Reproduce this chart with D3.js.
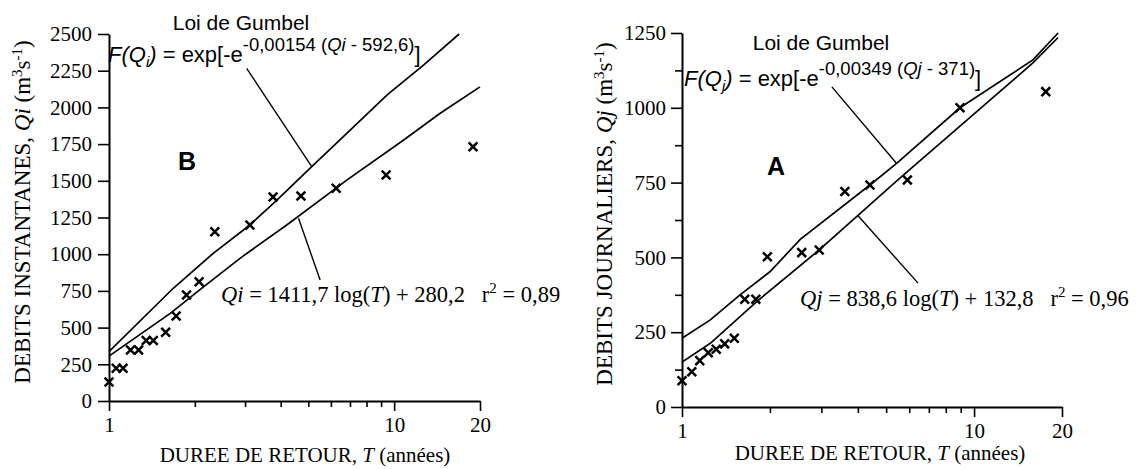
<html>
<head>
<script src="https://d3js.org/d3.v7.min.js"></script>
<style>
  body { margin: 0; background: #fff; }
  .serif { font-family: "Liberation Serif", "Times New Roman", serif; }
  .sans { font-family: "Liberation Sans", Arial, sans-serif; }
  text { fill: #000; white-space: pre; }
  .fit { fill: none; stroke: #000; stroke-width: 1.7; }
  .leader { stroke: #000; stroke-width: 1.4; }
  .obs { fill: none; stroke: #000; stroke-width: 2.5; }
</style>
</head>
<body>
<svg id="mainSVG" width="1141" height="469"></svg>
<script>
// ---------- B : debits instantanes (left panel) ----------
const bObsT = [1.0, 1.06, 1.12, 1.19, 1.27, 1.35, 1.43, 1.58, 1.72, 1.87, 2.07, 2.35, 3.12, 3.76, 4.71, 6.26, 9.37, 18.9];
const bObsQ = [130, 223, 223, 347, 347, 412, 412, 468, 579, 722, 813, 1153, 1199, 1390, 1396, 1449, 1540, 1732];
const bGumT = [1.0, 1.68, 2.32, 3.12, 3.88, 5.14, 6.82, 9.43, 12.7, 16.9];
const bGumQ = [336, 768, 1006, 1199, 1369, 1596, 1823, 2084, 2289, 2500];
const bRegT = [1.0, 1.64, 2.09, 2.88, 4.2, 6.82, 10.8, 14.5, 20];
const bRegQ = [306, 597, 760, 972, 1199, 1505, 1778, 1960, 2140];
const bLeaderGum = [[3.04, 2266], [5.14, 1596]];
const bLeaderReg = [[4.62, 1245], [5.5, 824]];
const bYTicks = [0, 250, 500, 750, 1000, 1250, 1500, 1750, 2000, 2250, 2500];

// ---------- A : debits journaliers (right panel) ----------
const aObsT = [1.0, 1.08, 1.15, 1.23, 1.31, 1.4, 1.51, 1.64, 1.79, 1.96, 2.57, 2.95, 3.61, 4.4, 5.91, 8.95, 17.6];
const aObsQ = [88, 118, 155, 181, 193, 211, 230, 360, 360, 502, 516, 525, 720, 742, 759, 1000, 1054];
const aGumT = [1.0, 1.25, 1.58, 2.0, 2.54, 4.4, 5.43, 8.95, 15.9, 19.4];
const aGumQ = [230, 291, 375, 452, 560, 742, 814, 1000, 1160, 1250];
const aRegT = [1.0, 1.25, 1.79, 2.95, 5.57, 9.45, 15.9, 19.4];
const aRegQ = [150, 213, 350, 525, 765, 959, 1150, 1235];
const aLeaderGum = [[3.26, 1070], [5.43, 814]];
const aLeaderReg = [[4.0, 640], [6.43, 414]];
const aYTicks = [0, 250, 500, 750, 1000, 1250];
const aYMinor = [125, 375, 625, 875, 1125];

const xMajor = [1, 10, 20];
const xMinor = [2, 3, 4, 5, 6, 7, 8, 9];

const svg = d3.select("#mainSVG");
const serifFont = '"Liberation Serif", "Times New Roman", serif';

// text made of pieces (italic, superscript, subscript)
function rich(g, x, y, segs, opt) {
  const t = g.append("text")
    .attr("x", x).attr("y", y)
    .attr("class", opt.cls)
    .attr("text-anchor", opt.anchor || "start")
    .style("font-size", opt.size + "px");
  if (opt.transform) t.attr("transform", opt.transform);
  let shift = 0;
  segs.forEach(s => {
    const off = s.sup ? -opt.supUp : (s.sub ? opt.subDown : 0);
    const sp = t.append("tspan").attr("dy", off - shift).text(s.t);
    shift = off;
    if (s.it) sp.style("font-style", "italic");
    if (s.sup) sp.style("font-size", opt.supSize + "px");
    if (s.sub) sp.style("font-size", opt.subSize + "px");
  });
  return t;
}

function drawPanel(cfg) {
  const g = svg.append("g");
  const x = d3.scaleLog().domain([1, 20]).range(cfg.xRange);
  const y = d3.scaleLinear().domain(cfg.yDomain).range(cfg.yRange);

  // y axis
  const ya = g.append("g")
    .attr("transform", `translate(${cfg.xRange[0]},0)`)
    .call(d3.axisLeft(y).tickValues(cfg.yTicks).tickFormat(d3.format("d"))
      .tickSize(11).tickPadding(cfg.yPad).tickSizeOuter(0));
  ya.selectAll("text").style("font-family", serifFont).style("font-size", "21px");
  ya.select(".domain").attr("stroke-width", 2);
  ya.selectAll(".tick line").attr("stroke-width", 1.6);

  if (cfg.yMinor) {
    const ym = g.append("g")
      .attr("transform", `translate(${cfg.xRange[0]},0)`)
      .call(d3.axisLeft(y).tickValues(cfg.yMinor).tickSize(7).tickFormat(""));
    ym.select(".domain").remove();
    ym.selectAll(".tick line").attr("stroke-width", 1.6);
  }

  // x axis (log)
  const xa = g.append("g")
    .attr("transform", `translate(0,${cfg.yRange[0]})`)
    .call(d3.axisBottom(x).tickValues(xMajor).tickFormat(d3.format("d"))
      .tickSize(10).tickPadding(cfg.xPad).tickSizeOuter(0));
  xa.selectAll("text").style("font-family", serifFont).style("font-size", "21px");
  xa.select(".domain").attr("stroke-width", 2);
  xa.selectAll(".tick line").attr("stroke-width", 1.6);

  const xm = g.append("g")
    .attr("transform", `translate(0,${cfg.yRange[0]})`)
    .call(d3.axisBottom(x).tickValues(xMinor).tickSize(6).tickFormat(""));
  xm.select(".domain").remove();
  xm.selectAll(".tick line").attr("stroke-width", 1.6);

  // fitted curves
  const line = d3.line().x(d => x(d[0])).y(d => y(d[1]));
  g.append("path").datum(d3.zip(cfg.gumT, cfg.gumQ)).attr("class", "fit").attr("d", line);
  g.append("path").datum(d3.zip(cfg.regT, cfg.regQ)).attr("class", "fit").attr("d", line);

  // leader lines to the labels
  g.selectAll("line.leader")
    .data([cfg.leaderGum, cfg.leaderReg])
    .join("line")
    .attr("class", "leader")
    .attr("x1", d => x(d[0][0])).attr("y1", d => y(d[0][1]))
    .attr("x2", d => x(d[1][0])).attr("y2", d => y(d[1][1]));

  // observations
  g.selectAll("path.obs")
    .data(d3.zip(cfg.obsT, cfg.obsQ))
    .join("path")
    .attr("class", "obs")
    .attr("transform", d => `translate(${x(d[0])},${y(d[1])})`)
    .attr("d", d3.symbol(d3.symbolX, 52));

  // labels
  const L = cfg.lab;
  g.append("text").attr("class", "sans").attr("x", L.gumbel[0]).attr("y", L.gumbel[1])
    .attr("text-anchor", "middle").style("font-size", "21px").text("Loi de Gumbel");

  rich(g, L.formula[0], L.formula[1], cfg.formula,
    { cls: "sans", size: 22, supSize: 18.5, subSize: 15, supUp: 11, subDown: 5 });

  g.append("text").attr("class", "sans").attr("x", L.letter[0]).attr("y", L.letter[1])
    .attr("text-anchor", "middle").style("font-size", "25px").style("font-weight", "bold").text(cfg.letter);

  rich(g, L.reg[0], L.reg[1], cfg.regText.concat([{ t: "   r" }, { t: "2", sup: true }, { t: " = " + cfg.r2 }]),
    { cls: "serif", size: 22.5, supSize: 15, subSize: 15, supUp: 9, subDown: 5 });

  rich(g, L.xTitle[0], L.xTitle[1], [{ t: "DUREE DE RETOUR, " }, { t: "T", it: true }, { t: " (années)" }],
    { cls: "serif", size: 21, anchor: "middle", supSize: 14, subSize: 14, supUp: 8, subDown: 5 });

  rich(g, -L.yTitle[1], L.yTitle[0], cfg.yTitle,
    { cls: "serif", size: 23, anchor: "middle", supSize: 15, subSize: 15, supUp: 8, subDown: 5, transform: "rotate(-90)" });
}

drawPanel({
  xRange: [109, 480], yDomain: [0, 2500], yRange: [401, 34],
  yTicks: bYTicks, yMinor: null, yPad: 6, xPad: 6,
  obsT: bObsT, obsQ: bObsQ, gumT: bGumT, gumQ: bGumQ, regT: bRegT, regQ: bRegQ,
  leaderGum: bLeaderGum, leaderReg: bLeaderReg,
  letter: "B", r2: "0,89",
  formula: [{ t: "F(Q", it: true }, { t: "i", it: true, sub: true }, { t: ")", it: true }, { t: " = exp[-e" },
            { t: "-0,00154 (", sup: true }, { t: "Qi", sup: true, it: true }, { t: " - 592,6)", sup: true }, { t: "]" }],
  regText: [{ t: "Qi", it: true }, { t: " = 1411,7 log(" }, { t: "T", it: true }, { t: ") + 280,2" }],
  yTitle: [{ t: "DEBITS INSTANTANES, " }, { t: "Qi", it: true }, { t: " (m" }, { t: "3", sup: true }, { t: "s" }, { t: "-1", sup: true }, { t: ")" }],
  lab: { gumbel: [241, 30], formula: [108, 62], letter: [187, 170], reg: [221, 302],
         xTitle: [305, 462], yTitle: [30, 212] }
});

drawPanel({
  xRange: [682, 1062], yDomain: [0, 1250], yRange: [407, 33],
  yTicks: aYTicks, yMinor: aYMinor, yPad: 5, xPad: 6,
  obsT: aObsT, obsQ: aObsQ, gumT: aGumT, gumQ: aGumQ, regT: aRegT, regQ: aRegQ,
  leaderGum: aLeaderGum, leaderReg: aLeaderReg,
  letter: "A", r2: "0,96",
  formula: [{ t: "F(Q", it: true }, { t: "j", it: true, sub: true }, { t: ")", it: true }, { t: " = exp[-e" },
            { t: "-0,00349 (", sup: true }, { t: "Qj", sup: true, it: true }, { t: " - 371)", sup: true }, { t: "]" }],
  regText: [{ t: "Qj", it: true }, { t: " = 838,6 log(" }, { t: "T", it: true }, { t: ") + 132,8" }],
  yTitle: [{ t: "DEBITS JOURNALIERS, " }, { t: "Qj", it: true }, { t: " (m" }, { t: "3", sup: true }, { t: "s" }, { t: "-1", sup: true }, { t: ")" }],
  lab: { gumbel: [821, 50], formula: [684, 86], letter: [776, 175], reg: [800, 306],
         xTitle: [880, 460], yTitle: [612, 214] }
});
</script>
</body>
</html>
